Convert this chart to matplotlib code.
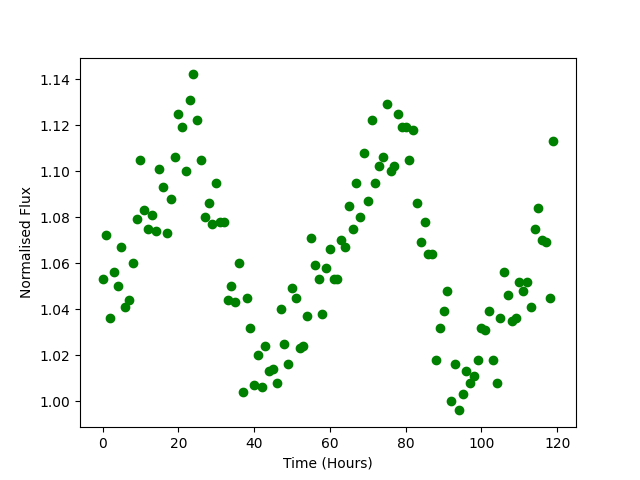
import matplotlib
matplotlib.use("Agg")
import matplotlib.pyplot as plt
import numpy as np

hours = list(range(120))
flux = [
    1.053, 1.072, 1.036, 1.056, 1.050, 1.067, 1.041, 1.044, 1.060, 1.079,
    1.105, 1.083, 1.075, 1.081, 1.074, 1.101, 1.093, 1.073, 1.088, 1.106,
    1.125, 1.119, 1.100, 1.131, 1.142, 1.122, 1.105, 1.080, 1.086, 1.077,
    1.095, 1.078, 1.078, 1.044, 1.050, 1.043, 1.060, 1.004, 1.045, 1.032,
    1.007, 1.020, 1.006, 1.024, 1.013, 1.014, 1.008, 1.040, 1.025, 1.016,
    1.049, 1.045, 1.023, 1.024, 1.037, 1.071, 1.059, 1.053, 1.038, 1.058,
    1.066, 1.053, 1.053, 1.070, 1.067, 1.085, 1.075, 1.095, 1.080, 1.108,
    1.087, 1.122, 1.095, 1.102, 1.106, 1.129, 1.100, 1.102, 1.125, 1.119,
    1.119, 1.105, 1.118, 1.086, 1.069, 1.078, 1.064, 1.064, 1.018, 1.032,
    1.039, 1.048, 1.000, 1.016, 0.996, 1.003, 1.013, 1.008, 1.011, 1.018,
    1.032, 1.031, 1.039, 1.018, 1.008, 1.036, 1.056, 1.046, 1.035, 1.036,
    1.052, 1.048, 1.052, 1.041, 1.075, 1.084, 1.070, 1.069, 1.045, 1.113,
]

fig, ax = plt.subplots(figsize=(6.4, 4.8), dpi=100)
ax.plot(hours, flux, 'o', color='green')
ax.set_xlabel('Time (Hours)')
ax.set_ylabel('Normalised Flux')
fig.savefig('out.png')
